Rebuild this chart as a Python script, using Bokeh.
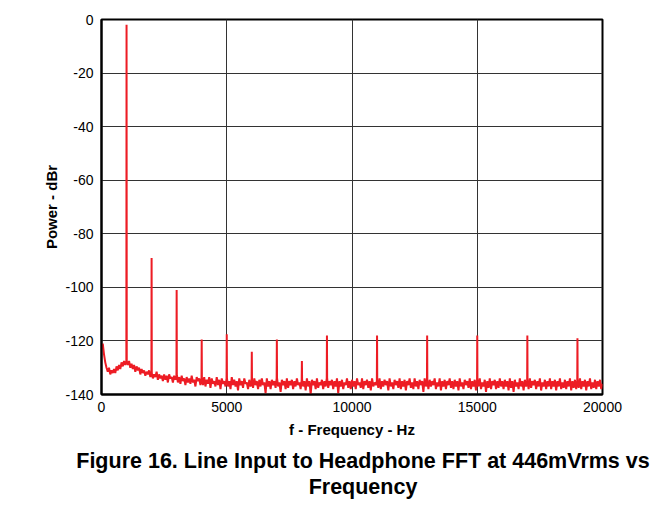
from bokeh.plotting import figure
from bokeh.models import Range1d, FixedTicker, Div, ColumnDataSource
from bokeh.layouts import column
from bokeh.embed import file_html
from bokeh.resources import INLINE

# Noise floor, read every 50 Hz from 0 Hz to 20000 Hz (dBr)
floor_step_hz = 50
floor_db = [
    -123, -121, -125, -128, -130, -131.5, -130, -132.5, -131, -132, -130.5, -132, -129.5, -131, -129, -130.5, -128, -129.5, -127.5, -129,
    -127.5, -129, -127.5, -130, -128.5, -130.5, -129, -131.5, -129.5, -131, -130, -132.5, -130.5, -132, -131, -133, -131.5, -132.5, -131, -133.5,
    -132, -134, -132.5, -133.5, -131.5, -134.5, -132.5, -134, -133, -135, -132.5, -134.5, -133, -135.5, -132.5, -134, -133.5, -135.5, -133, -134.5,
    -133, -135.5, -133.5, -136, -133, -135, -134, -136.5, -133.5, -135.5, -134, -136, -133, -135.5, -134.5, -137, -133.5, -135, -134, -136.5,
    -134, -136.5, -133.5, -137, -134.5, -136, -133.5, -137.5, -134, -136, -135, -137, -133.5, -136.5, -134.5, -138, -134, -136, -135, -137,
    -134, -137, -135, -138, -133.5, -136.5, -134.5, -137, -135, -138.5, -134, -136.5, -135, -137.5, -134, -136, -135.5, -138, -134.5, -137,
    -135, -137.5, -134, -136.5, -135, -138, -134.5, -137, -134, -136.5, -135.5, -139.5, -134, -137, -135, -138, -134.5, -136.5, -135, -137.5,
    -134, -137, -135.5, -139, -134.5, -136.5, -135, -138, -134, -137.5, -135, -136.5, -134.5, -138, -135, -137, -134, -136.5, -135.5, -138,
    -134.5, -137, -135, -138.5, -134, -137, -135, -140, -134.5, -136.5, -135, -138, -134, -137.5, -135.5, -136.5, -134.5, -138, -135, -137,
    -134, -137.5, -135, -136.5, -134.5, -138, -135, -137, -134, -139.5, -135, -137, -134.5, -138, -135.5, -136.5, -134, -137.5, -135, -138,
    -134.5, -137, -135, -138, -134, -136.5, -135.5, -137.5, -134, -138, -135, -136.5, -134.5, -137.5, -135, -138.5, -134, -137, -135.5, -136.5,
    -135, -137.5, -134, -138, -135, -137, -134.5, -136.5, -135, -138.5, -134, -137, -135.5, -138, -134.5, -136.5, -135, -137.5, -134, -138,
    -135, -137, -134.5, -138.5, -135, -136.5, -134, -137.5, -135.5, -138, -134, -137, -135, -138, -134.5, -136.5, -135, -139, -134, -137,
    -135, -138, -134.5, -137, -135, -136.5, -134, -138, -135.5, -137, -134, -138.5, -135, -137, -134.5, -138, -135, -136.5, -134, -137.5,
    -135, -138, -134.5, -137, -135, -138.5, -134, -137, -135.5, -138, -134.5, -136.5, -135, -137.5, -134, -138, -135, -137, -134.5, -138.5,
    -135, -137, -134, -138, -135.5, -137, -134.5, -139, -135, -137.5, -134, -138, -135, -136.5, -134.5, -138, -135, -137.5, -134, -137,
    -135, -138, -134.5, -137, -135, -138.5, -134, -137.5, -135, -139, -134.5, -137, -135.5, -138, -134, -137, -135, -138.5, -134.5, -137,
    -135, -138, -134, -137.5, -135, -136.5, -134.5, -138, -135, -137, -134, -138.5, -135.5, -137, -134.5, -138, -135, -137, -134, -138,
    -135, -137, -134.5, -138.5, -135, -137, -134, -138, -135.5, -137.5, -134.5, -138, -135, -137, -134, -138.5, -135, -137.5, -134.5, -138,
    -135, -137.5, -134, -138, -135, -137, -134.5, -138.5, -135, -137, -134, -138, -135.5, -137.5, -134.5, -138, -135, -137, -134.5, -138,
    -136,
]

# Fundamental and harmonic / spur peaks (Hz, dBr)
peak_freqs = [1000, 2000, 3000, 4000, 5000, 6000, 7000, 8000, 9000, 11000, 13000, 15000, 17000, 19000]
peak_db = [-2, -89, -101, -119.5, -117.5, -124, -119.5, -127.5, -118, -118, -118, -118, -118, -119]

x_ticks = [0, 5000, 10000, 15000, 20000]
y_ticks = [0, -20, -40, -60, -80, -100, -120, -140]

# build the trace from the arrays above
peak_map = dict(zip(peak_freqs, peak_db))
freqs, levels = [], []
for i, v in enumerate(floor_db):
    f = i * floor_step_hz
    if f in peak_map:
        freqs += [f - 8, f, f + 8]
        levels += [v, peak_map[f], v]
    else:
        freqs.append(f)
        levels.append(v)
src = ColumnDataSource(dict(f=freqs, db=levels))

FONT = "Liberation Sans"

# page header rule: a thin all-black strip figure spanning the full width
rule = figure(width=669, height=3, x_range=Range1d(0, 1), y_range=Range1d(0, 1),
              output_backend="svg", toolbar_location=None,
              x_axis_location=None, y_axis_location=None,
              min_border=0, outline_line_color=None,
              background_fill_color="black", border_fill_color="black")
rule.grid.visible = False

p = figure(width=669, height=438,
           x_range=Range1d(0, 20000), y_range=Range1d(-140, 0),
           output_backend="svg", toolbar_location=None,
           min_border_left=101, min_border_right=67,
           min_border_top=16, min_border_bottom=47)

p.line("f", "db", source=src, line_color="#ED1C24", line_width=2)

p.xaxis.ticker = FixedTicker(ticks=x_ticks)
p.yaxis.ticker = FixedTicker(ticks=y_ticks)
p.xaxis.major_label_overrides = {t: str(t) for t in x_ticks}
p.yaxis.major_label_overrides = {t: str(t) for t in y_ticks}

for ax in (p.xaxis, p.yaxis):
    ax.major_tick_out = 0
    ax.major_tick_in = 0
    ax.minor_tick_out = 0
    ax.minor_tick_in = 0
    ax.axis_line_color = "black"
    ax.axis_line_width = 2
    ax.major_label_text_font = FONT
    ax.major_label_text_font_size = "14px"
    ax.major_label_text_color = "black"
    ax.axis_label_text_font = FONT
    ax.axis_label_text_font_style = "bold"
    ax.axis_label_text_font_size = "15px"
    ax.axis_label_text_color = "black"

p.xaxis.axis_label = "f - Frequency - Hz"
p.yaxis.axis_label = "Power - dBr"
p.xaxis.major_label_standoff = 7
p.yaxis.major_label_standoff = 8
p.xaxis.axis_label_standoff = 6
p.yaxis.axis_label_standoff = 2

p.xgrid.ticker = FixedTicker(ticks=x_ticks)
p.ygrid.ticker = FixedTicker(ticks=y_ticks)
p.grid.grid_line_color = "#333333"
p.grid.grid_line_width = 1

p.outline_line_color = "black"
p.outline_line_width = 2
p.background_fill_color = "white"
p.border_fill_color = "white"

caption = Div(
    text=('<div style="font-family:\'Liberation Sans\',Arial,sans-serif;font-weight:bold;'
          'font-size:21.5px;line-height:26px;text-align:center;color:black;'
          'width:600px;margin-left:63px;padding-top:7px;">'
          'Figure 16. Line Input to Headphone FFT at 446mVrms vs<br>Frequency</div>'),
    width=669, height=60, margin=(0, 0, 0, 0))

layout = column(rule, p, caption, spacing=0)

open("out.html", "w").write(file_html(layout, INLINE))
